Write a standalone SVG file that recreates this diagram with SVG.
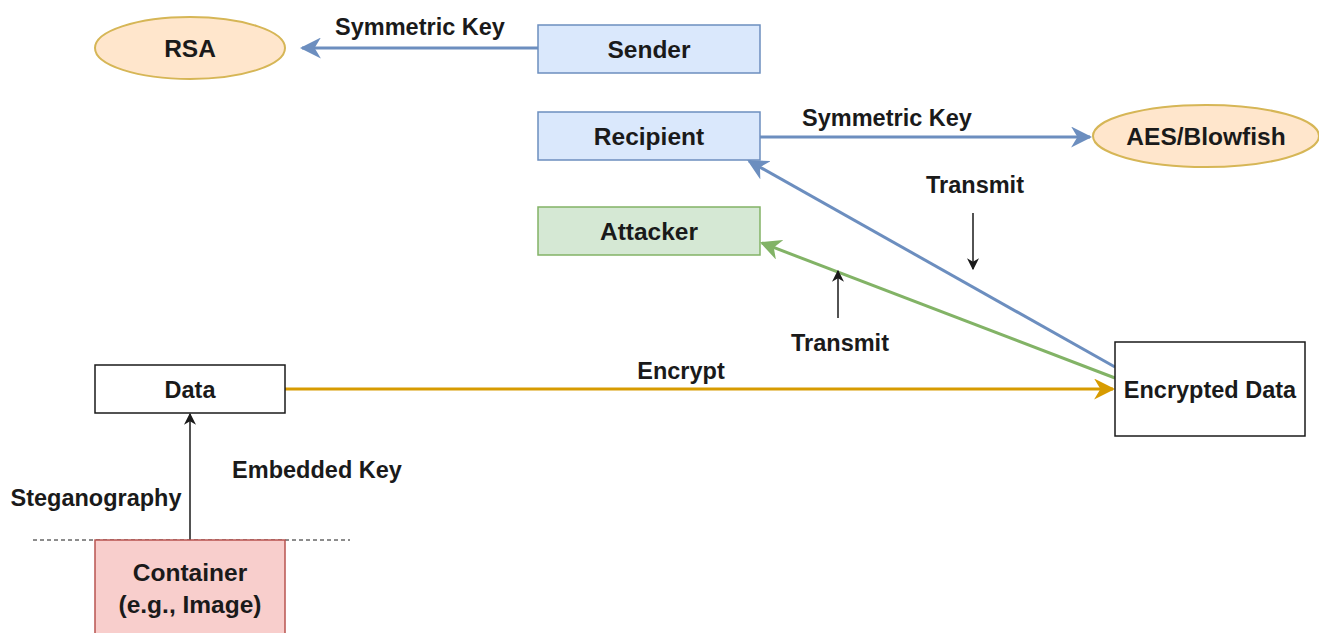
<svg xmlns="http://www.w3.org/2000/svg" width="1319" height="633" viewBox="0 0 1319 633">
  <style>
    text { font-family: "Liberation Sans", Arial, sans-serif; font-weight: bold; fill: #1a1a1a; text-anchor: middle; }
    .lbl { font-size: 23.5px; }
    .node { font-size: 24.5px; }
    .blue { fill: #dae8fc; stroke: #6c8ebf; stroke-width: 1.5; }
    .green { fill: #d5e8d4; stroke: #82b366; stroke-width: 1.5; }
    .red { fill: #f8cecc; stroke: #b85450; stroke-width: 1.5; }
    .orange { fill: #ffe6cc; stroke: #d6b656; stroke-width: 2; }
    .plain { fill: #ffffff; stroke: #1a1a1a; stroke-width: 1.5; }
  </style>
  <defs>
    <marker id="headBlue" viewBox="0 0 10 10" refX="9" refY="5" markerWidth="7" markerHeight="7" markerUnits="strokeWidth" orient="auto">
      <path d="M0,0 L10,5 L0,10 L3,5 Z" fill="#6c8ebf"/>
    </marker>
    <marker id="headGreen" viewBox="0 0 10 10" refX="9" refY="5" markerWidth="7" markerHeight="7" markerUnits="strokeWidth" orient="auto">
      <path d="M0,0 L10,5 L0,10 L3,5 Z" fill="#82b366"/>
    </marker>
    <marker id="headOrange" viewBox="0 0 10 10" refX="9" refY="5" markerWidth="7" markerHeight="7" markerUnits="strokeWidth" orient="auto">
      <path d="M0,0 L10,5 L0,10 L3,5 Z" fill="#d79b00"/>
    </marker>
    <marker id="headBlack" viewBox="0 0 10 10" refX="9" refY="5" markerWidth="8" markerHeight="8" markerUnits="strokeWidth" orient="auto">
      <path d="M0,0 L10,5 L0,10 L3,5 Z" fill="#1a1a1a"/>
    </marker>
  </defs>

  <rect width="1319" height="633" fill="#ffffff"/>

  <!-- connectors and their labels -->
  <g id="connectors" fill="none">
    <line x1="538" y1="48" x2="302" y2="48" stroke="#6c8ebf" stroke-width="3" marker-end="url(#headBlue)"/>
    <line x1="760" y1="137" x2="1090" y2="137" stroke="#6c8ebf" stroke-width="3" marker-end="url(#headBlue)"/>
    <line x1="1115" y1="367" x2="749" y2="161" stroke="#6c8ebf" stroke-width="3" marker-end="url(#headBlue)"/>
    <line x1="1115" y1="378" x2="762" y2="243" stroke="#82b366" stroke-width="3" marker-end="url(#headGreen)"/>
    <line x1="285" y1="389" x2="1113" y2="389" stroke="#d79b00" stroke-width="3" marker-end="url(#headOrange)"/>
    <line x1="973" y1="213" x2="973" y2="269" stroke="#1a1a1a" stroke-width="1.5" marker-end="url(#headBlack)"/>
    <line x1="838" y1="318" x2="838" y2="271" stroke="#1a1a1a" stroke-width="1.5" marker-end="url(#headBlack)"/>
    <line x1="190" y1="540" x2="190" y2="414" stroke="#1a1a1a" stroke-width="1.5" marker-end="url(#headBlack)"/>
    <line x1="33" y1="540" x2="350" y2="540" stroke="#1a1a1a" stroke-width="1" stroke-dasharray="4 3"/>

    <text class="lbl" x="420" y="35" stroke="none">Symmetric Key</text>
    <text class="lbl" x="887" y="126" stroke="none">Symmetric Key</text>
    <text class="lbl" x="975" y="193" stroke="none">Transmit</text>
    <text class="lbl" x="840" y="351" stroke="none">Transmit</text>
    <text class="lbl" x="681" y="379" stroke="none">Encrypt</text>
    <text class="lbl" x="317" y="478" stroke="none">Embedded Key</text>
    <text class="lbl" x="96" y="506" stroke="none">Steganography</text>
  </g>

  <!-- nodes -->
  <g id="rsa">
    <ellipse class="orange" cx="190" cy="48" rx="95" ry="31"/>
    <text class="node" x="190" y="57">RSA</text>
  </g>
  <g id="sender">
    <rect class="blue" x="538" y="25" width="222" height="48"/>
    <text class="node" x="649" y="58">Sender</text>
  </g>
  <g id="recipient">
    <rect class="blue" x="538" y="112" width="222" height="48"/>
    <text class="node" x="649" y="145">Recipient</text>
  </g>
  <g id="aes">
    <ellipse class="orange" cx="1206" cy="136" rx="113" ry="31"/>
    <text class="node" x="1206" y="145">AES/Blowfish</text>
  </g>
  <g id="attacker">
    <rect class="green" x="538" y="207" width="222" height="48"/>
    <text class="node" x="649" y="240">Attacker</text>
  </g>
  <g id="encrypted-data">
    <rect class="plain" x="1115" y="342" width="190" height="94"/>
    <text class="lbl" x="1210" y="398">Encrypted Data</text>
  </g>
  <g id="data">
    <rect class="plain" x="95" y="365" width="190" height="48"/>
    <text class="lbl" x="190" y="398">Data</text>
  </g>
  <g id="container">
    <rect class="red" x="95" y="540" width="190" height="100"/>
    <text class="node" x="190" y="581">Container</text>
    <text class="node" x="190" y="613">(e.g., Image)</text>
  </g>
</svg>
